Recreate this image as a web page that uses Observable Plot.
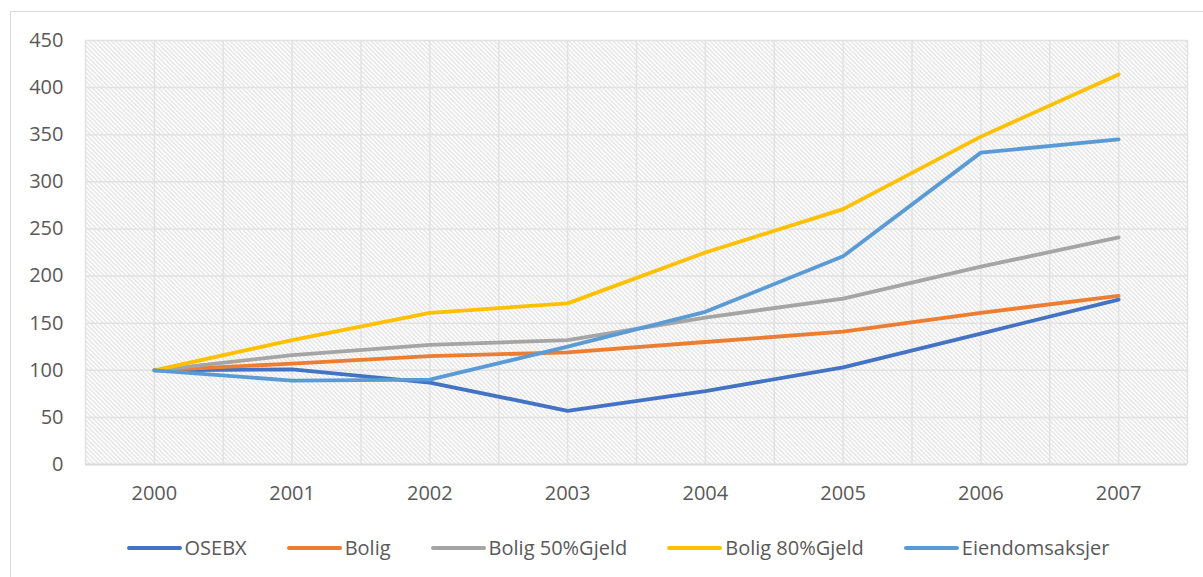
<!DOCTYPE html>
<html>
<head>
<meta charset="utf-8">
<script src="https://cdn.jsdelivr.net/npm/d3@7"></script>
<script src="https://cdn.jsdelivr.net/npm/@observablehq/plot@0.6"></script>
<style>
  html, body { margin: 0; padding: 0; background: #fff; overflow: hidden; }
  #chart { position: relative; width: 1203px; height: 577px; overflow: hidden; background: #fff;
           font-family: "Open Sans", "Noto Sans", sans-serif; color: #595959; }
  #frame { position: absolute; left: 10px; top: 11px; width: 1240px; height: 640px;
           border: 1.5px solid #d9d9d9; box-sizing: border-box; }
  #plot { position: absolute; left: 0; top: 0; }
  #legend { position: absolute; left: 33px; width: 1170px; top: 534px; display: flex;
            justify-content: center; align-items: center; gap: 40px; font-size: 20px; }
  .item { display: flex; align-items: center; }
  .swatch { width: 55px; height: 4px; border-radius: 2px; margin-right: 3px; }
</style>
</head>
<body>
<div id="chart">
  <div id="frame"></div>
  <div id="plot"></div>
  <div id="legend"></div>
</div>
<script>
// Index values, 2000 = 100
const years = ["2000", "2001", "2002", "2003", "2004", "2005", "2006", "2007"];
const seriesNames = ["OSEBX", "Bolig", "Bolig 50%Gjeld", "Bolig 80%Gjeld", "Eiendomsaksjer"];
const seriesColors = ["#4472C4", "#ED7D31", "#A5A5A5", "#FFC000", "#5B9BD5"];
const osebx   = [100, 101, 87, 57, 78, 103, 139, 175];
const bolig   = [100, 107, 115, 119, 130, 141, 161, 179];
const bolig50 = [100, 116, 127, 132, 156, 176, 210, 241];
const bolig80 = [100, 132, 161, 171, 225, 271, 348, 414];
const eiendom = [100, 89, 90, 125, 162, 221, 331, 345];
const yTicks = [0, 50, 100, 150, 200, 250, 300, 350, 400, 450];

const seriesValues = [osebx, bolig, bolig50, bolig80, eiendom];
const rows = seriesNames.flatMap((name, s) =>
  years.map((yr, i) => ({series: name, year: +yr, value: seriesValues[s][i]})));

const yearNums = years.map(Number);
const xDomain = [yearNums[0] - 0.5, yearNums[yearNums.length - 1] + 0.5];
// vertical grid at every category centre and every category boundary
const xGrid = d3.range(xDomain[0], xDomain[1] + 0.01, 0.5);

const plot = Plot.plot({
  width: 1203,
  height: 520,
  marginLeft: 85,
  marginRight: 16,
  marginTop: 40,
  marginBottom: 56,
  style: {fontFamily: '"Open Sans", "Noto Sans", sans-serif', fontSize: "20px", color: "#595959", background: "transparent"},
  x: {type: "linear", domain: xDomain, label: null},
  y: {domain: [0, 450], label: null},
  color: {domain: seriesNames, range: seriesColors},
  marks: [
    Plot.frame({fill: "url(#hatch)", stroke: null}),
    Plot.ruleX(xGrid, {stroke: "#e2e2e2", strokeWidth: 1.5}),
    Plot.ruleY(yTicks.filter(d => d > 0), {stroke: "#e2e2e2", strokeWidth: 1.5}),
    Plot.ruleY([0], {stroke: "#d9d9d9", strokeWidth: 2}),
    Plot.axisX({ticks: yearNums, tickFormat: d => String(d), tickSize: 0, tickPadding: 21, label: null}),
    Plot.axisY({ticks: yTicks, tickSize: 0, tickPadding: 22, label: null}),
    Plot.lineY(rows, {x: "year", y: "value", z: "series", stroke: "series",
                      strokeWidth: 3.8, strokeLinecap: "round", strokeLinejoin: "round"})
  ]
});

// diagonal hatch used as the plot-area background
const defs = d3.select(plot).insert("defs", ":first-child");
const pat = defs.append("pattern")
  .attr("id", "hatch").attr("patternUnits", "userSpaceOnUse")
  .attr("width", 4.4).attr("height", 4.4);
pat.append("rect").attr("width", 4.4).attr("height", 4.4).attr("fill", "#ffffff");
pat.append("path")
  .attr("d", "M-1.1,-1.1L5.5,5.5M-1.1,3.3L1.1,5.5M3.3,-1.1L5.5,1.1")
  .attr("stroke", "#dedede").attr("stroke-width", 1.1);

document.getElementById("plot").appendChild(plot);

// legend row
const legend = d3.select("#legend");
seriesNames.forEach((name, i) => {
  const item = legend.append("div").attr("class", "item");
  item.append("div").attr("class", "swatch").style("background", seriesColors[i]);
  item.append("span").text(name);
});
</script>
</body>
</html>
